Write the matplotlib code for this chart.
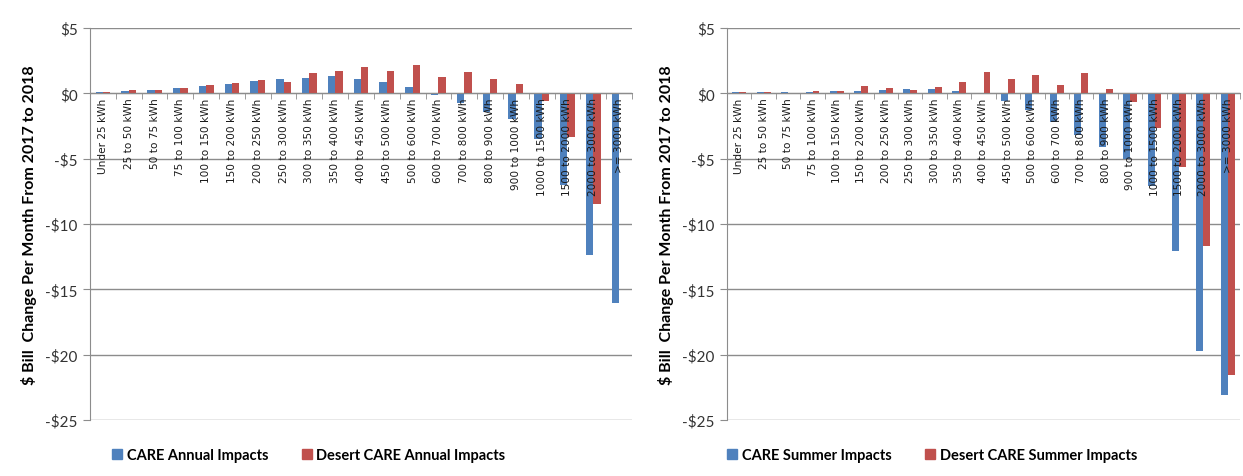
import numpy as np
import matplotlib
matplotlib.use('Agg')
import matplotlib.pyplot as plt
from matplotlib.patches import Patch

plt.rcParams['font.family'] = ['Lato', 'DejaVu Sans']

categories = ['Under 25 kWh', '25 to 50 kWh', '50 to 75 kWh', '75 to 100 kWh',
              '100 to 150 kWh', '150 to 200 kWh', '200 to 250 kWh', '250 to 300 kWh',
              '300 to 350 kWh', '350 to 400 kWh', '400 to 450 kWh', '450 to 500 kWh',
              '500 to 600 kWh', '600 to 700 kWh', '700 to 800 kWh', '800 to 900 kWh',
              '900 to 1000 kWh', '1000 to 1500 kWh', '1500 to 2000 kWh',
              '2000 to 3000 kWh', '>= 3000 kWh']

care_annual = [0.1, 0.15, 0.23, 0.38, 0.56, 0.72, 0.95, 1.13, 1.2, 1.31, 1.13,
               0.87, 0.46, -0.13, -0.77, -1.46, -2.0, -3.53, -7.03, -12.4, -16.05]
desert_annual = [0.1, 0.23, 0.23, 0.38, 0.64, 0.79, 1.03, 0.87, 1.54, 1.69, 2.0,
                 1.69, 2.17, 1.28, 1.61, 1.1, 0.72, -0.56, -3.32, -8.5, 0.0]

care_summer = [0.1, 0.1, 0.1, 0.1, 0.2, 0.2, 0.28, 0.36, 0.36, 0.18, -0.08,
               -0.56, -1.28, -2.17, -3.22, -4.12, -5.0, -7.1, -12.1, -19.7, -23.1]
desert_summer = [0.1, 0.1, 0.0, 0.2, 0.2, 0.54, 0.44, 0.28, 0.46, 0.9, 1.64,
                 1.13, 1.38, 0.67, 1.53, 0.31, -0.64, -2.63, -5.65, -11.7, -21.55]

yticks = [5, 0, -5, -10, -15, -20, -25]
ylabel = '$ Bill  Change Per Month From 2017 to 2018'

BLUE = '#4F81BD'
RED = '#C0504D'
GRID = '#8C8C8C'


def draw_panel(ax, blue, red, names):
    x = np.arange(len(categories))
    w = 0.286
    ax.bar(x - w / 2, blue, w, color=BLUE, zorder=2)
    ax.bar(x + w / 2, red, w, color=RED, zorder=2)
    ax.set_xlim(-0.5, len(categories) - 0.5)
    ax.set_ylim(-25, 5)
    ax.set_yticks(yticks)
    ax.set_yticklabels([('-$%d' % -v) if v < 0 else ('$%d' % v) for v in yticks],
                       fontsize=11, color='#333333')
    ax.yaxis.grid(True, color=GRID, linewidth=1, zorder=0)
    ax.tick_params(axis='y', length=5, color=GRID, pad=4)

    for s in ['top', 'right']:
        ax.spines[s].set_visible(False)
    ax.spines['left'].set_color(GRID)
    ax.spines['bottom'].set_position(('data', 0))
    ax.spines['bottom'].set_color(GRID)
    ax.spines['bottom'].set_zorder(3)

    # category labels hang from the zero line, drawn over the bars
    ax.set_xticks(x)
    ax.set_xticklabels(categories, rotation=90, fontsize=7.6, color='#1a1a1a',
                       family='DejaVu Sans')
    ax.tick_params(axis='x', length=0, pad=3)
    ax.xaxis.set_zorder(4)
    ax.set_xticks(np.arange(len(categories) + 1) - 0.5, minor=True)
    ax.tick_params(axis='x', which='minor', length=4, color=GRID, direction='out')

    ax.set_ylabel(ylabel, fontsize=11.5, fontweight='bold', labelpad=6)

    handles = [Patch(color=BLUE, label=names[0]), Patch(color=RED, label=names[1])]
    return handles


fig = plt.figure(figsize=(12.43, 4.77), dpi=100)
ax1 = fig.add_axes([90 / 1243, 1 - 421 / 477, 542 / 1243, 392 / 477])
ax2 = fig.add_axes([727 / 1243, 1 - 421 / 477, 513 / 1243, 392 / 477])

h1 = draw_panel(ax1, care_annual, desert_annual,
                ['CARE Annual Impacts', 'Desert CARE Annual Impacts'])
h2 = draw_panel(ax2, care_summer, desert_summer,
                ['CARE Summer Impacts', 'Desert CARE Summer Impacts'])

fig.legend(handles=h1, loc='center left', bbox_to_anchor=(99 / 1243, 1 - 456 / 477),
           ncol=2, frameon=False, handlelength=0.7, handleheight=0.7,
           handletextpad=0.3, columnspacing=2.3,
           prop={'size': 10.5, 'weight': 'bold'})
fig.legend(handles=h2, loc='center left', bbox_to_anchor=(714 / 1243, 1 - 456 / 477),
           ncol=2, frameon=False, handlelength=0.7, handleheight=0.7,
           handletextpad=0.3, columnspacing=2.3,
           prop={'size': 10.5, 'weight': 'bold'})

fig.savefig('out.png', dpi=100)
